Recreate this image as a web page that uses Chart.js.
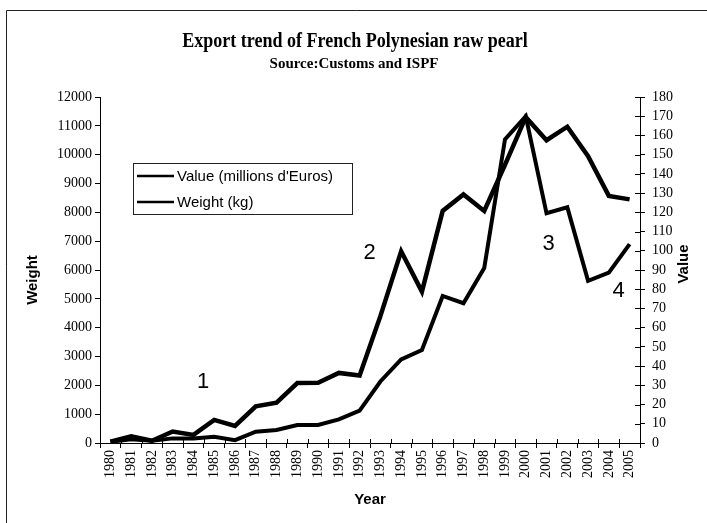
<!DOCTYPE html>
<html>
<head>
<meta charset="utf-8">
<script src="https://cdn.jsdelivr.net/npm/chart.js@4.4.1/dist/chart.umd.min.js"></script>
<style>
  html, body { margin: 0; padding: 0; background: #fff; }
  #wrap { position: relative; width: 707px; height: 523px; }
</style>
</head>
<body>
<div id="wrap"><canvas id="grafico" width="707" height="523"></canvas></div>
<script>
// Années et séries
const ANNEES = [
  "1980", "1981", "1982", "1983", "1984", "1985", "1986", "1987", "1988",
  "1989", "1990", "1991", "1992", "1993", "1994", "1995", "1996", "1997",
  "1998", "1999", "2000", "2001", "2002", "2003", "2004", "2005",
];

// Poids (kg) - axe de gauche
const POIDS = [
  50, 230, 80, 400, 280, 800, 590, 1270, 1400, 2080, 2090, 2430, 2340,
  4400, 6650, 5250, 8050, 8620, 8050, 9650, 11300, 10500, 10970, 9950,
  8570, 8450,
];

// Valeur (millions d'Euros) - axe de droite
const VALEUR = [
  0.6, 2, 1.2, 2.4, 2.4, 3.3, 1.5, 5.9, 6.8, 9.4, 9.4, 12.3, 16.8, 32,
  43.5, 48.4, 76.5, 72.7, 91, 158, 170, 119.5, 122.6, 84.4, 88.6, 103.5,
];

const NOMS_SERIES = ["Value (millions d'Euros)", "Weight (kg)"];
const REPERES = ["1", "2", "3", "4"];

const SERIF = "'Liberation Serif', 'Times New Roman', serif";
const SANS = "'Liberation Sans', Arial, sans-serif";

// Dessin du cadre, des titres, de la légende et des repères
const decor = {
  id: "decor",
  beforeDraw(chart) {
    const ctx = chart.ctx;
    ctx.save();
    ctx.fillStyle = "#fff";
    ctx.fillRect(0, 0, chart.width, chart.height);
    ctx.strokeStyle = "#222";
    ctx.lineWidth = 1;
    ctx.beginPath();
    ctx.moveTo(6.5, chart.height);
    ctx.lineTo(6.5, 10.5);
    ctx.lineTo(chart.width, 10.5);
    ctx.stroke();
    ctx.restore();
  },
  afterDraw(chart) {
    const ctx = chart.ctx;
    const x = chart.scales.x;
    const y = chart.scales.y;
    const y2 = chart.scales.y2;
    ctx.save();
    ctx.fillStyle = "#000";
    ctx.textAlign = "center";
    ctx.textBaseline = "middle";

    // titre un peu resserré comme l'original
    ctx.save();
    ctx.translate(355, 42);
    ctx.scale(0.9, 1);
    ctx.font = "bold 20px " + SERIF;
    ctx.fillText("Export trend of French Polynesian raw pearl", 0, 0);
    ctx.restore();
    ctx.font = "bold 15px " + SERIF;
    ctx.fillText("Source:Customs and ISPF", 354, 64);

    // titres des axes verticaux (lus de bas en haut)
    ctx.font = "bold 15px " + SANS;
    ctx.save();
    ctx.translate(33, 280);
    ctx.rotate(-Math.PI / 2);
    ctx.fillText("Weight", 0, 0);
    ctx.restore();
    ctx.save();
    ctx.translate(684, 264);
    ctx.rotate(-Math.PI / 2);
    ctx.fillText("Value", 0, 0);
    ctx.restore();

    // petits traits intérieurs des axes
    ctx.strokeStyle = "#000";
    ctx.lineWidth = 1;
    ctx.beginPath();
    for (let i = 0; i <= ANNEES.length; i++) {
      const px = Math.round(x.getPixelForValue(i - 0.5)) + 0.5;
      ctx.moveTo(px, x.top);
      ctx.lineTo(px, x.top - 4);
    }
    y2.ticks.forEach((t) => {
      const py = Math.round(y2.getPixelForValue(t.value)) + 0.5;
      ctx.moveTo(y2.left, py);
      ctx.lineTo(y2.left - 5, py);
    });
    ctx.stroke();

    // repères numérotés
    const positions = [
      [4.46, 2120], [12.48, 6590], [21.1, 6900], [24.47, 5270],
    ];
    ctx.font = "22px " + SANS;
    REPERES.forEach((txt, i) => {
      ctx.fillText(txt, x.getPixelForValue(positions[i][0]), y.getPixelForValue(positions[i][1]));
    });

    // légende
    ctx.strokeStyle = "#222";
    ctx.lineWidth = 1;
    ctx.strokeRect(133.5, 163.5, 219, 51);
    ctx.font = "15px " + SANS;
    ctx.textAlign = "left";
    NOMS_SERIES.forEach((nom, i) => {
      const ly = 176 + i * 26;
      ctx.strokeStyle = "#000";
      ctx.lineWidth = 2.5;
      ctx.beginPath();
      ctx.moveTo(137, ly);
      ctx.lineTo(174, ly);
      ctx.stroke();
      ctx.fillText(nom, 177, ly + 1);
    });
    ctx.restore();
  },
};

const brut = (v) => String(v);

new Chart(document.getElementById("grafico").getContext("2d"), {
  type: "line",
  data: {
    labels: ANNEES,
    datasets: [
      {
        label: NOMS_SERIES[0],
        data: VALEUR,
        yAxisID: "y2",
        borderColor: "#000",
        borderWidth: 4,
        pointRadius: 0,
        tension: 0,
      },
      {
        label: NOMS_SERIES[1],
        data: POIDS,
        yAxisID: "y",
        borderColor: "#000",
        borderWidth: 4.5,
        pointRadius: 0,
        tension: 0,
      },
    ],
  },
  options: {
    responsive: false,
    animation: false,
    events: [],
    layout: { padding: { top: 97, left: 0, right: 0, bottom: 0 } },
    plugins: {
      legend: { display: false },
      tooltip: { enabled: false },
      title: { display: false },
    },
    scales: {
      x: {
        type: "category",
        offset: true,
        afterFit: (s) => { s.height = 80; },
        border: { display: true, color: "#000", width: 1 },
        grid: { offset: true, drawOnChartArea: false, color: "#000", tickLength: 5 },
        ticks: {
          color: "#000",
          font: { family: SERIF, size: 14 },
          minRotation: 90,
          maxRotation: 90,
          padding: 2,
          autoSkip: false,
        },
        title: {
          display: true,
          text: "Year",
          color: "#000",
          font: { family: SANS, size: 15, weight: "bold" },
          padding: { top: 0, bottom: 14 },
        },
      },
      y: {
        position: "left",
        min: 0,
        max: 12000,
        afterFit: (s) => { s.width = 100; },
        border: { display: true, color: "#000", width: 1 },
        grid: { drawOnChartArea: false, color: "#000", tickLength: 5 },
        ticks: {
          stepSize: 1000,
          autoSkip: false,
          callback: brut,
          color: "#000",
          font: { family: SERIF, size: 14 },
          padding: 3,
        },
      },
      y2: {
        position: "right",
        min: 0,
        max: 180,
        afterFit: (s) => { s.width = 67; },
        border: { display: true, color: "#000", width: 1 },
        grid: { drawOnChartArea: false, color: "#000", tickLength: 5 },
        ticks: {
          stepSize: 10,
          autoSkip: false,
          callback: brut,
          color: "#000",
          font: { family: SERIF, size: 14 },
          padding: 7,
        },
      },
    },
  },
  plugins: [decor],
});
</script>
</body>
</html>
